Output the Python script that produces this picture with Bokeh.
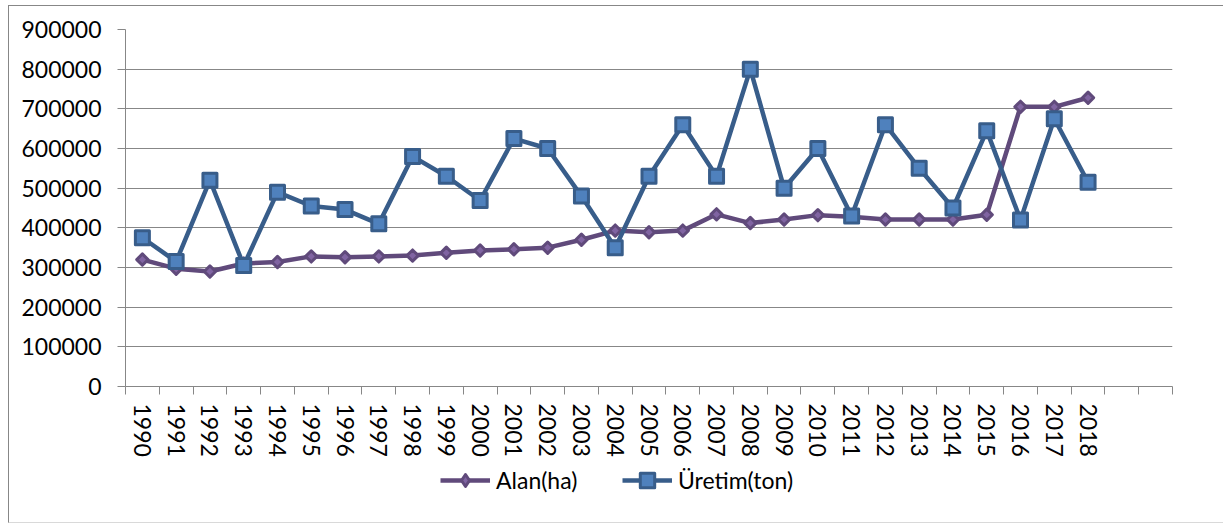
import math

from bokeh.plotting import figure
from bokeh.layouts import column
from bokeh.models import Range1d, FixedTicker, NumeralTickFormatter, Legend, LegendItem
from bokeh.embed import file_html
from bokeh.resources import INLINE

# Yearly cultivated area (ha) and production (ton)
years = [1990, 1991, 1992, 1993, 1994, 1995, 1996, 1997, 1998, 1999,
         2000, 2001, 2002, 2003, 2004, 2005, 2006, 2007, 2008, 2009,
         2010, 2011, 2012, 2013, 2014, 2015, 2016, 2017, 2018]
alan_ha = [320000, 297000, 290000, 310000, 314000, 328000, 326000, 328000, 330000, 337000,
           343000, 346000, 350000, 370000, 393000, 389000, 393000, 434000, 412000, 421000,
           432000, 428000, 421000, 421000, 421000, 433000, 705000, 705000, 728000]
uretim_ton = [375000, 315000, 520000, 305000, 490000, 455000, 446000, 410000, 580000, 530000,
              469000, 625000, 600000, 480000, 350000, 530000, 660000, 530000, 800000, 500000,
              600000, 430000, 660000, 550000, 450000, 645000, 420000, 675000, 515000]
y_ticks = [0, 100000, 200000, 300000, 400000, 500000, 600000, 700000, 800000, 900000]
series_labels = ["Alan(ha)", "Üretim(ton)"]

# two empty category slots follow the last year
n_slots = len(years) + 2
x_start = years[0] - 0.5
slot_edges = [x_start + i for i in range(n_slots + 1)]

FONT = "Lato"
FS = "23px"
GRID = "#878787"
PURPLE_LINE = "#604A7B"
PURPLE_FILL = "#8064A2"
BLUE_LINE = "#385D8A"
BLUE_FILL = "#4F81BD"

CANVAS_W = 1214
MAIN_H = 457
LEGEND_H = 59

p = figure(
    width=CANVAS_W, height=MAIN_H,
    min_border_left=116, min_border_right=51, min_border_top=23, min_border_bottom=77,
    x_range=Range1d(x_start, x_start + n_slots), y_range=Range1d(0, 900000),
    output_backend="svg", toolbar_location=None,
)
p.outline_line_color = None
p.background_fill_color = "white"
p.border_fill_color = "white"

# x axis: labels at slot centres, tick marks at slot boundaries
xa = p.xaxis[0]
xa.ticker = FixedTicker(ticks=years, minor_ticks=slot_edges)
xa.formatter = NumeralTickFormatter(format="0")
xa.major_label_orientation = "vertical"
xa.major_tick_in = 0
xa.major_tick_out = 8
xa.major_tick_line_color = None
xa.minor_tick_in = 0
xa.minor_tick_out = 8
xa.minor_tick_line_color = GRID
xa.major_label_standoff = 9

ya = p.yaxis[0]
ya.ticker = FixedTicker(ticks=y_ticks)
ya.formatter = NumeralTickFormatter(format="0")
ya.major_tick_in = 0
ya.major_tick_out = 8
ya.major_tick_line_color = GRID
ya.minor_tick_line_color = None
ya.major_label_standoff = 16

for ax in (xa, ya):
    ax.axis_line_color = GRID
    ax.major_label_text_font = FONT
    ax.major_label_text_font_size = FS
    ax.major_label_text_color = "black"

p.xgrid.visible = False
p.ygrid.ticker = FixedTicker(ticks=y_ticks)
p.ygrid.grid_line_color = GRID
p.ygrid.grid_line_width = 1

alan_line = dict(line_color=PURPLE_LINE, line_width=4.5, line_join="round")
alan_mark = dict(fill_color=PURPLE_FILL, line_color=PURPLE_LINE, line_width=3, line_join="round")
ur_line = dict(line_color=BLUE_LINE, line_width=4.5, line_join="round")
ur_mark = dict(marker="square", fill_color=BLUE_FILL,
               line_color=BLUE_LINE, line_width=3, line_join="round")

p.line(years, alan_ha, **alan_line)
p.scatter(years, alan_ha, size=8, marker="square", angle=math.pi / 4, **alan_mark)
p.line(years, uretim_ton, **ur_line)
p.scatter(years, uretim_ton, size=14, **ur_mark)

# legend strip below the chart
lg = figure(
    width=CANVAS_W, height=LEGEND_H,
    min_border_left=0, min_border_right=0, min_border_top=0, min_border_bottom=0,
    x_range=Range1d(0, 1), y_range=Range1d(0, 1),
    x_axis_type=None, y_axis_type=None,
    output_backend="svg", toolbar_location=None,
)
lg.outline_line_color = None
lg.grid.visible = False
lg.background_fill_color = "white"
lg.border_fill_color = "white"

# key glyphs sit outside the visible range; only their legend swatches show
kx, ky = [-5], [-5]
k_al = lg.line(kx, ky, **alan_line)
k_am = lg.scatter(kx, ky, size=8, marker="diamond", **alan_mark)
k_ul = lg.line(kx, ky, **ur_line)
k_um = lg.scatter(kx, ky, size=14, **ur_mark)


def make_legend(label, renderers, loc, gh):
    return Legend(
        items=[LegendItem(label=label, renderers=renderers)],
        location=loc, orientation="horizontal",
        border_line_color=None, background_fill_alpha=0,
        padding=0, margin=0, spacing=0, label_standoff=6,
        glyph_width=50, glyph_height=gh,
        label_text_font=FONT, label_text_font_size=FS, label_text_color="black",
    )


lg.add_layout(make_legend(series_labels[0], [k_al, k_am], (315, 27), 30))
lg.add_layout(make_legend(series_labels[1], [k_ul, k_um], (497, 24), 36))

page = column(
    p, lg, spacing=0, margin=(5, 0, 0, 8),
    styles={
        "border-left": "1px solid #878787",
        "border-top": "1px solid #878787",
        "border-bottom": "1px solid #d9d9d9",
    },
)

open("out.html", "w").write(file_html(page, INLINE))
